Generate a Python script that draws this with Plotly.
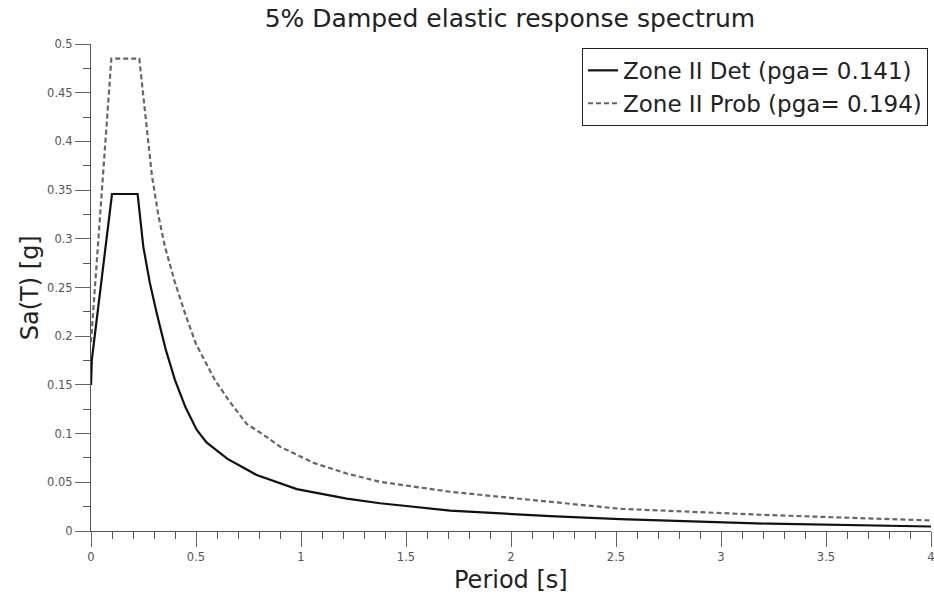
import plotly.graph_objects as go

# Period [s] and Sa(T) [g]
det_T = [0.0, 0.004, 0.1, 0.222, 0.249, 0.28, 0.313, 0.355, 0.4, 0.45, 0.503, 0.55, 0.65,
         0.789, 0.98, 1.218, 1.376, 1.71, 2.186, 2.52, 3.23, 4.0]
det_Sa = [0.15, 0.176, 0.346, 0.346, 0.292, 0.255, 0.2235, 0.187, 0.155, 0.127, 0.104, 0.091, 0.074,
          0.0575, 0.043, 0.0333, 0.0285, 0.021, 0.0152, 0.0122, 0.0075, 0.0046]

prob_T = [0.0, 0.097, 0.23, 0.245, 0.265, 0.29, 0.32, 0.352, 0.4, 0.45, 0.5, 0.59, 0.66,
          0.741, 0.82, 0.9, 1.059, 1.218, 1.376, 1.71, 2.0, 2.186, 2.52, 3.233, 4.0]
prob_Sa = [0.194, 0.485, 0.485, 0.455, 0.41, 0.365, 0.325, 0.292, 0.255, 0.222, 0.192, 0.155, 0.133,
           0.110, 0.099, 0.0866, 0.070, 0.059, 0.0505, 0.0403, 0.034, 0.030, 0.0228, 0.0163, 0.0108]

det_name = "Zone II Det (pga= 0.141)"
prob_name = "Zone II Prob (pga= 0.194)"

x_range = [0, 4]
y_range = [0, 0.5]

fig = go.Figure()
fig.add_trace(go.Scatter(x=det_T, y=det_Sa, mode="lines", name=det_name,
                         line=dict(color="#111111", width=2.2)))
fig.add_trace(go.Scatter(x=prob_T, y=prob_Sa, mode="lines", name=prob_name,
                         line=dict(color="#666666", width=2.2, dash="5px,3px")))

font_family = "DejaVu Sans, Liberation Sans, Arial, sans-serif"
axis_common = dict(ticks="outside", ticklen=15, tickwidth=1, tickcolor="#666666",
                   showline=True, linecolor="#555555", linewidth=1,
                   showgrid=True, gridcolor="rgba(0,0,0,0)", zeroline=False, automargin=False,
                   tickfont=dict(size=11.5, color="#555555"))
fig.update_layout(
    width=934, height=603,
    margin=dict(l=91, r=3, t=44, b=72),
    paper_bgcolor="white", plot_bgcolor="white",
    font=dict(family=font_family, color="#222222"),
    title=dict(text="5% Damped elastic response spectrum", x=0.546, xanchor="center",
               y=0.97, yanchor="middle", font=dict(size=25, color="#222222")),
    showlegend=True,
    legend=dict(x=0.9964, xanchor="right", y=0.992, yanchor="top",
                bgcolor="white", bordercolor="#222222", borderwidth=1,
                font=dict(size=23, color="#222222"), tracegroupgap=0,
                itemwidth=30),
    xaxis=dict(range=x_range, dtick=0.5, ticklabeloverflow="allow",
               minor=dict(dtick=0.1, ticks="outside", ticklen=7, tickcolor="#555555", tickwidth=1.2),
               **axis_common),
    yaxis=dict(range=y_range, dtick=0.05,
               minor=dict(dtick=0.025, ticks="outside", ticklen=7, tickcolor="#555555", tickwidth=1.2),
               **axis_common),
    annotations=[
        dict(text="Period [s]", xref="paper", yref="paper", x=0.5, y=-0.1,
             xanchor="center", yanchor="middle", showarrow=False,
             font=dict(size=24, color="#222222")),
        dict(text="Sa(T) [g]", xref="paper", yref="paper", x=-0.073, y=0.5,
             xanchor="center", yanchor="middle", textangle=-90, showarrow=False,
             font=dict(size=24, color="#222222")),
    ],
)

fig.write_html("out.html")
